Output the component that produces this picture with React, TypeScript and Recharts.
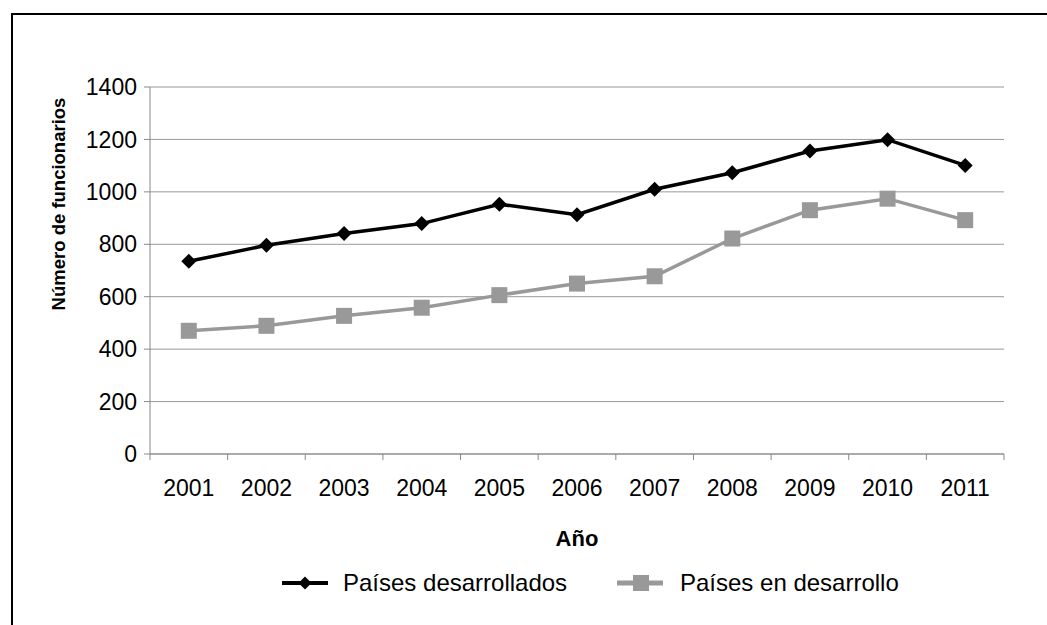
import React from 'react';
import { LineChart, Line, XAxis, YAxis, CartesianGrid } from 'recharts';

const years = ['2001', '2002', '2003', '2004', '2005', '2006', '2007', '2008', '2009', '2010', '2011'];
const developed = [735, 796, 841, 879, 953, 913, 1010, 1073, 1156, 1199, 1101];
const developing = [470, 489, 527, 558, 606, 650, 678, 822, 930, 974, 892];
const yTicks = [0, 200, 400, 600, 800, 1000, 1200, 1400];

const seriesNames = { dev: 'Países desarrollados', devg: 'Países en desarrollo' };

const data = years.map((y, i) => ({ year: y, dev: developed[i], devg: developing[i] }));

const FONT = '"Liberation Sans", Arial, sans-serif';
const GRAY = '#999999';
const AXIS = '#888888';

const Diamond = (props: any) => {
  const { cx, cy, index } = props;
  if (cx == null || cy == null) return <g key={index} />;
  const r = 7.5;
  return (
    <path
      key={index}
      d={`M${cx},${cy - r} L${cx + r},${cy} L${cx},${cy + r} L${cx - r},${cy} Z`}
      fill="#000"
    />
  );
};

const Square = (props: any) => {
  const { cx, cy, index } = props;
  if (cx == null || cy == null) return <g key={index} />;
  const s = 8;
  return <rect key={index} x={cx - s} y={cy - s} width={2 * s} height={2 * s} fill={GRAY} />;
};

// Category tick: label at band centre, tick marks at band boundaries (between categories)
const YearTick = (props: any) => {
  const { x, y, payload, index, visibleTicksCount, width } = props;
  const n = visibleTicksCount || years.length;
  const half = (width || 854) / n / 2;
  const axisY = y - 26;
  return (
    <g>
      <line x1={x - half} y1={axisY} x2={x - half} y2={axisY + 6} stroke={AXIS} strokeWidth={1} />
      {index === n - 1 && (
        <line x1={x + half} y1={axisY} x2={x + half} y2={axisY + 6} stroke={AXIS} strokeWidth={1} />
      )}
      <text x={x} y={y} dy="0.71em" textAnchor="middle" fill="#000" fontSize={23} fontFamily={FONT}>
        {payload.value}
      </text>
    </g>
  );
};

const LegendBlock = () => (
  <div style={{ position: 'absolute', left: 0, top: 565, width: 1047, height: 40, fontFamily: FONT }}>
    <svg style={{ position: 'absolute', left: 282, top: 10 }} width={46} height={16}>
      <line x1={0} y1={8} x2={46} y2={8} stroke="#000" strokeWidth={4} />
      <path d="M23,1.5 L29.5,8 L23,14.5 L16.5,8 Z" fill="#000" />
    </svg>
    <div style={{ position: 'absolute', left: 343, top: 6, fontSize: 24, lineHeight: '24px', color: '#000', whiteSpace: 'nowrap' }}>
      {seriesNames.dev}
    </div>
    <svg style={{ position: 'absolute', left: 617, top: 10 }} width={46} height={16}>
      <line x1={0} y1={8} x2={46} y2={8} stroke={GRAY} strokeWidth={5} />
      <rect x={16} y={0} width={16} height={16} fill={GRAY} />
    </svg>
    <div style={{ position: 'absolute', left: 680, top: 6, fontSize: 24, lineHeight: '24px', color: '#000', whiteSpace: 'nowrap' }}>
      {seriesNames.devg}
    </div>
  </div>
);

export default function App() {
  return (
    <div style={{ position: 'absolute', left: 0, top: 0, width: 1047, height: 625, background: '#fff', overflow: 'hidden', fontFamily: FONT }}>
      <div
        style={{
          position: 'absolute',
          left: 11,
          top: 13,
          width: 1100,
          height: 700,
          borderTop: '2px solid #000',
          borderLeft: '2px solid #000',
        }}
      />
      <LineChart
        width={1047}
        height={625}
        data={data}
        margin={{ top: 87, right: 43, bottom: 131, left: 0 }}
        style={{ position: 'absolute', left: 0, top: 0 }}
      >
        <CartesianGrid horizontal vertical={false} stroke={GRAY} strokeWidth={1} />
        <XAxis
          dataKey="year"
          height={40}
          axisLine={{ stroke: AXIS }}
          tickLine={false}
          tickSize={0}
          tickMargin={26}
          interval={0}
          padding={{ left: 38.8, right: 38.8 }}
          tick={YearTick}
        />
        <YAxis
          width={150}
          domain={[0, 1400]}
          ticks={yTicks}
          interval={0}
          tickSize={6}
          tickMargin={7}
          stroke={AXIS}
          tick={{ fill: '#000', fontSize: 23, fontFamily: FONT }}
        />
        <Line
          dataKey="dev"
          name={seriesNames.dev}
          type="linear"
          stroke="#000"
          strokeWidth={3.5}
          dot={Diamond}
          activeDot={false}
          isAnimationActive={false}
        />
        <Line
          dataKey="devg"
          name={seriesNames.devg}
          type="linear"
          stroke={GRAY}
          strokeWidth={3.5}
          dot={Square}
          activeDot={false}
          isAnimationActive={false}
        />
      </LineChart>
      <LegendBlock />
      <div
        style={{
          position: 'absolute',
          left: 477,
          top: 528,
          width: 200,
          textAlign: 'center',
          fontSize: 22,
          lineHeight: '22px',
          fontWeight: 'bold',
          color: '#000',
        }}
      >
        Año
      </div>
      <div
        style={{
          position: 'absolute',
          left: 58.5 - 150,
          top: 204 - 11,
          width: 300,
          height: 22,
          textAlign: 'center',
          fontSize: 18.5,
          lineHeight: '22px',
          fontWeight: 'bold',
          color: '#000',
          transform: 'rotate(-90deg)',
          transformOrigin: '150px 11px',
          whiteSpace: 'nowrap',
        }}
      >
        Número de funcionarios
      </div>
    </div>
  );
}
